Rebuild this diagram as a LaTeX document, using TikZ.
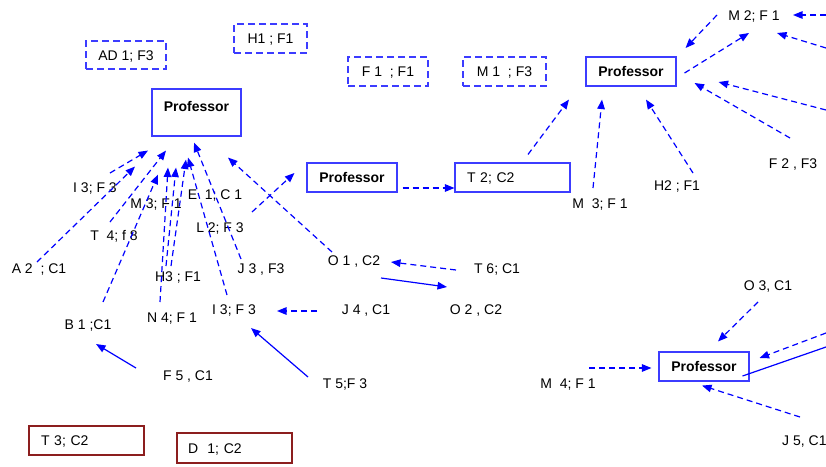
\documentclass[tikz,border=0pt]{standalone}
\usepackage{fontspec}
\setmainfont{Liberation Sans}
\usetikzlibrary{arrows.meta}
\definecolor{arrblue}{RGB}{0,0,255}
\definecolor{boxblue}{RGB}{60,60,255}
\definecolor{boxred}{RGB}{140,30,30}
\newcommand\lblfont{\fontsize{14}{16}\selectfont}
\tikzset{
  lab/.style={inner sep=0pt, text height=10pt, text depth=0pt, font=\lblfont},
  dar/.style={draw=arrblue, line width=1.2pt, dash pattern=on 6pt off 4pt,
    -{Triangle[length=9.5pt,width=7.5pt]}},
  sar/.style={draw=arrblue, line width=1.2pt, -{Triangle[length=9.5pt,width=7.5pt]}},
  sline/.style={draw=arrblue, line width=1.2pt},
  probox/.style={draw=boxblue, line width=1.1pt, minimum width=90pt, minimum height=29pt,
    inner sep=0pt, text height=10pt, text depth=0pt, font=\lblfont\bfseries},
  dbox/.style={draw=boxblue, line width=1.1pt, dash pattern=on 7pt off 4pt,
    minimum height=29pt, inner sep=0pt, text height=10pt, text depth=0pt, font=\lblfont},
  tbox/.style={line width=1.1pt, minimum height=29pt, text width=91pt, align=left,
    inner xsep=12pt, inner ysep=0pt, text height=10pt, text depth=0pt, font=\lblfont},
}
\begin{document}
\begin{tikzpicture}[x=1pt,y=-1pt]
\useasboundingbox (0,0) rectangle (826,466);

% dashed boxes along the top
\node[dbox, minimum width=80pt, minimum height=28pt] (ad1) at (126,55) {AD 1; F3};
\node[dbox, minimum width=73pt] (h1) at (270.5,38.5) {H1 ; F1};
\node[dbox, minimum width=80pt] (f1) at (388,71.5) {F 1 \ ; F1};
\node[dbox, minimum width=83pt] (m1) at (504.5,71.5) {M 1 \ ; F3};

% professor boxes
\node[probox, minimum width=89pt, text height=22pt, text depth=25pt] (p1) at (196.5,112.5) {Professor};
\node[probox] (p2) at (352,177.5) {Professor};
\node[probox] (p3) at (631,71.5) {Professor};
\node[probox] (p4) at (704,366.5) {Professor};

% plain framed boxes
\node[tbox, draw=boxblue] (t2) at (512.5,177.5) {T 2; C2};
\node[tbox, draw=boxred] (t3) at (86.5,440.5) {T 3; C2};
\node[tbox, draw=boxred, minimum height=30pt, inner xsep=11pt, text width=93pt] (d1) at (234.5,448) {D \ 1; C2};

% free labels
\node[lab] (lI3a) at (95,187) {I 3; F 3};
\node[lab] (lM3a) at (156,203) {M 3; F 1};
\node[lab] (lE1) at (215,194) {E \ 1; C 1};
\node[lab] (lT4) at (114,235) {T \ 4; f 8};
\node[lab] (lL2) at (220,227) {L 2; F 3};
\node[lab] (lA2) at (39,268) {A 2 \ ; C1};
\node[lab] (lH3) at (178,276) {H3 ; F1};
\node[lab] (lJ3) at (261,268) {J 3 , F3};
\node[lab] (lO1) at (354,260) {O 1 , C2};
\node[lab] (lB1) at (88,324) {B 1 ;C1};
\node[lab] (lN4) at (172,317) {N 4; F 1};
\node[lab] (lI3b) at (234,309) {I 3; F 3};
\node[lab] (lJ4) at (366,309) {J 4 , C1};
\node[lab] (lF5) at (188,375) {F 5 , C1};
\node[lab] (lT5) at (345,383) {T 5;F 3};
\node[lab] (lT6) at (497,268) {T 6; C1};
\node[lab] (lO2) at (476,309) {O 2 , C2};
\node[lab] (lM4) at (568,383) {M \ 4; F 1};
\node[lab] (lO3) at (768,285) {O 3, C1};
\node[lab, anchor=west] (lJ5) at (782,440) {J 5, C1};
\node[lab] (lM3b) at (600,203) {M \ 3; F 1};
\node[lab] (lH2) at (677,185) {H2 ; F1};
\node[lab] (lF2) at (793,163) {F 2 , F3};
\node[lab] (lM2) at (754,15) {M 2; F 1};

% loose ends running off the right edge
\coordinate (eR1) at (826,15);
\coordinate (eR2) at (826,48);
\coordinate (eR3) at (826,110);
\coordinate (eR4) at (826,333);
\coordinate (eR5) at (826,347);

% fan of links into the first professor
\draw[dar] ([shift={(15,-14)}]lI3a.center) -- ([shift={(-48.5,14)}]p1.south);
\draw[dar] ([shift={(-4,-13)}]lT4.center) -- ([shift={(-30.5,14)}]p1.south);
\draw[dar] ([shift={(-2,-6)}]lA2.center) -- ([shift={(-61.5,30)}]p1.south);
\draw[dar] ([shift={(15,-22)}]lB1.center) -- ([shift={(-38.5,38)}]p1.south);
\draw[dar] ([shift={(-12,-15)}]lN4.center) -- ([shift={(-28.5,31)}]p1.south);
\draw[dar] ([shift={(-12,-10)}]lH3.center) -- ([shift={(-20.5,31)}]p1.south);
\draw[dar] ([shift={(-7,-10)}]lH3.center) -- ([shift={(-10.5,23)}]p1.south);
\draw[dar] ([shift={(-7,-14)}]lI3b.center) -- ([shift={(-8.5,21)}]p1.south);
\draw[dar] ([shift={(-20,-9)}]lJ3.center) -- ([shift={(-2.5,6)}]p1.south);
\draw[dar] ([shift={(-22,-8)}]lO1.center) -- ([shift={(31.5,21)}]p1.south);

% middle chain
\draw[dar] ([shift={(32,-15)}]lL2.center) -- ([shift={(-12,-4.5)}]p2.west);
\draw[dar] ([shift={(5,10.5)}]p2.east) -- ([shift={(0,10.5)}]t2.west);
\draw[dar] ([shift={(15.5,-8)}]t2.north) -- ([shift={(-62,13)}]p3.south);

% links around the third professor
\draw[dar] ([shift={(-7,-15)}]lM3b.center) -- ([shift={(-29,13)}]p3.south);
\draw[dar] ([shift={(16,-12)}]lH2.center) -- ([shift={(15,13)}]p3.south);
\draw[dar] ([shift={(8,1.5)}]p3.east) -- ([shift={(-5,18)}]lM2.center);
\draw[dar] ([shift={(-37,0)}]lM2.center) -- ([shift={(9,-23.5)}]p3.east);
\draw[dar] (eR1) -- ([shift={(39,0)}]lM2.center);
\draw[dar] (eR2) -- ([shift={(23,18)}]lM2.center);
\draw[dar] (eR3) -- ([shift={(42,10.5)}]p3.east);
\draw[dar] ([shift={(-3,-25)}]lF2.center) -- ([shift={(18,11.5)}]p3.east);

% lower middle links
\draw[dar] ([shift={(-41,2)}]lT6.center) -- ([shift={(37,2)}]lO1.center);
\draw[sar] ([shift={(27,18)}]lO1.center) -- ([shift={(-29,-22)}]lO2.center);
\draw[dar] ([shift={(-49,2)}]lJ4.center) -- ([shift={(43,2)}]lI3b.center);
\draw[sar] ([shift={(-52,-7)}]lF5.center) -- ([shift={(8,20)}]lB1.center);
\draw[sar] ([shift={(-37,-6)}]lT5.center) -- ([shift={(17,19)}]lI3b.center);

% links around the fourth professor
\draw[dar] ([shift={(21,-15)}]lM4.center) -- ([shift={(-7,1.5)}]p4.west);
\draw[dar] ([shift={(-10,17)}]lO3.center) -- ([shift={(14,-10)}]p4.north);
\draw[dar] ([shift={(18,-23)}]lJ5.west) -- ([shift={(-2,4)}]p4.south);
\draw[dar] (eR4) -- ([shift={(10,-8.5)}]p4.east);
\draw[sline] ([shift={(-7,9.5)}]p4.east) -- (eR5);
\end{tikzpicture}
\end{document}
